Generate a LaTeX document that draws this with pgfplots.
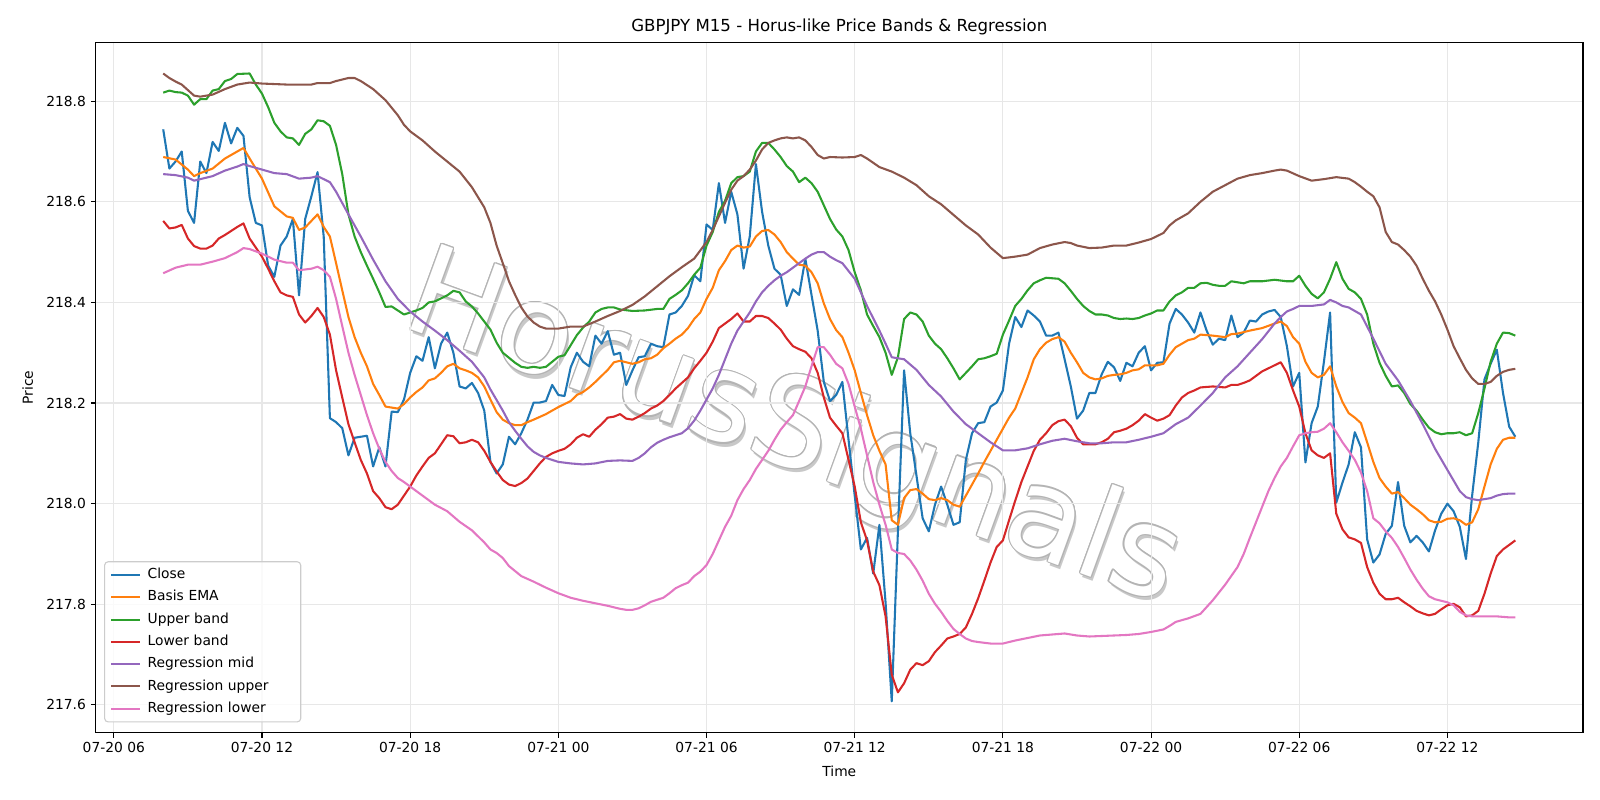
\documentclass[border=0pt]{standalone}
\usepackage{fontspec}
\setmainfont{DejaVu Sans}
\usepackage{pgfplots}
\usepackage{pgfplotstable}
\pgfplotsset{compat=1.18}

\definecolor{cClose}{HTML}{1F77B4}
\definecolor{cEma}{HTML}{FF7F0E}
\definecolor{cUp}{HTML}{2CA02C}
\definecolor{cLow}{HTML}{D62728}
\definecolor{cMid}{HTML}{9467BD}
\definecolor{cRUp}{HTML}{8C564B}
\definecolor{cRLow}{HTML}{E377C2}
\definecolor{gridgray}{HTML}{E7E7E7}
\definecolor{wmshadow}{HTML}{C8C8C8}
\definecolor{wmedge}{HTML}{B4B4B4}

% bar = number of 15-minute bars after 07-20 08:00
\pgfplotstableread{
bar price
0 218.744
1 218.666
2 218.680
3 218.700
4 218.582
5 218.558
6 218.680
7 218.657
8 218.719
9 218.701
10 218.757
11 218.716
12 218.747
13 218.731
14 218.609
15 218.558
16 218.553
17 218.473
18 218.451
19 218.513
20 218.531
21 218.566
22 218.414
23 218.566
24 218.611
25 218.659
26 218.530
27 218.170
28 218.162
29 218.150
30 218.096
31 218.131
32 218.133
33 218.135
34 218.074
35 218.112
36 218.074
37 218.183
38 218.182
39 218.207
40 218.260
41 218.293
42 218.284
43 218.331
44 218.269
45 218.318
46 218.340
47 218.300
48 218.233
49 218.229
50 218.240
51 218.220
52 218.185
53 218.083
54 218.060
55 218.078
56 218.133
57 218.118
58 218.140
59 218.167
60 218.201
61 218.201
62 218.204
63 218.236
64 218.216
65 218.214
66 218.271
67 218.300
68 218.282
69 218.273
70 218.334
71 218.318
72 218.343
73 218.296
74 218.300
75 218.236
76 218.265
77 218.291
78 218.293
79 218.318
80 218.313
81 218.311
82 218.376
83 218.380
84 218.393
85 218.413
86 218.454
87 218.442
88 218.555
89 218.544
90 218.637
91 218.558
92 218.620
93 218.575
94 218.467
95 218.531
96 218.675
97 218.580
98 218.513
99 218.467
100 218.455
101 218.393
102 218.426
103 218.415
104 218.487
105 218.415
106 218.344
107 218.242
108 218.204
109 218.216
110 218.242
111 218.127
112 218.016
113 217.909
114 217.932
115 217.861
116 217.958
117 217.803
118 217.607
119 217.945
120 218.265
121 218.140
122 218.056
123 217.971
124 217.945
125 217.998
126 218.034
127 217.998
128 217.958
129 217.963
130 218.087
131 218.140
132 218.160
133 218.162
134 218.193
135 218.201
136 218.225
137 218.318
138 218.371
139 218.351
140 218.384
141 218.374
142 218.362
143 218.334
144 218.334
145 218.340
146 218.287
147 218.233
148 218.169
149 218.185
150 218.220
151 218.220
152 218.257
153 218.282
154 218.271
155 218.244
156 218.280
157 218.273
158 218.300
159 218.313
160 218.265
161 218.280
162 218.281
163 218.358
164 218.387
165 218.376
166 218.360
167 218.340
168 218.380
169 218.344
170 218.316
171 218.328
172 218.325
173 218.374
174 218.331
175 218.340
176 218.364
177 218.362
178 218.376
179 218.382
180 218.385
181 218.371
182 218.313
183 218.233
184 218.260
185 218.082
186 218.160
187 218.193
188 218.282
189 218.380
190 218.002
191 218.042
192 218.078
193 218.142
194 218.112
195 217.929
196 217.883
197 217.899
198 217.940
199 217.956
200 218.043
201 217.956
202 217.923
203 217.936
204 217.923
205 217.905
206 217.947
207 217.980
208 218.000
209 217.985
210 217.954
211 217.890
212 218.016
213 218.122
214 218.247
215 218.278
216 218.306
217 218.220
218 218.153
219 218.133
}\closetab

\pgfplotstableread{
bar price
0 218.689
2 218.684
4 218.664
5 218.651
6 218.657
8 218.666
10 218.686
12 218.700
13 218.707
14 218.686
16 218.646
18 218.591
20 218.571
21 218.568
22 218.544
23 218.549
24 218.562
25 218.575
26 218.550
27 218.531
28 218.478
29 218.424
30 218.371
31 218.331
32 218.300
33 218.273
34 218.238
35 218.216
36 218.193
37 218.191
38 218.189
39 218.198
40 218.211
41 218.222
42 218.231
43 218.245
44 218.249
45 218.260
46 218.273
47 218.278
48 218.269
49 218.265
50 218.260
51 218.251
52 218.233
53 218.207
54 218.182
55 218.167
56 218.160
57 218.156
58 218.156
59 218.162
60 218.167
62 218.178
64 218.192
66 218.204
67 218.216
68 218.222
69 218.231
70 218.242
71 218.254
72 218.266
73 218.281
74 218.284
75 218.281
76 218.278
77 218.281
78 218.287
79 218.289
80 218.296
81 218.309
82 218.318
83 218.328
84 218.336
85 218.349
86 218.367
87 218.380
88 218.407
89 218.429
90 218.464
91 218.482
92 218.504
93 218.513
94 218.509
95 218.511
96 218.531
97 218.542
98 218.544
99 218.535
100 218.520
101 218.500
102 218.487
103 218.475
104 218.473
105 218.460
106 218.438
107 218.398
108 218.367
109 218.345
110 218.331
111 218.300
112 218.265
113 218.220
114 218.176
115 218.136
116 218.105
117 218.078
118 217.967
119 217.958
120 218.011
121 218.027
122 218.029
123 218.020
124 218.009
125 218.007
126 218.011
127 218.007
128 217.998
129 217.994
130 218.016
131 218.038
132 218.060
133 218.083
134 218.105
135 218.127
136 218.149
137 218.171
138 218.189
139 218.220
140 218.251
141 218.287
142 218.307
143 218.320
144 218.327
145 218.331
146 218.322
147 218.300
148 218.281
149 218.260
150 218.251
151 218.247
152 218.249
153 218.254
154 218.256
155 218.257
156 218.260
157 218.265
158 218.267
159 218.275
160 218.275
161 218.275
162 218.278
163 218.296
164 218.311
165 218.318
166 218.325
167 218.328
168 218.336
170 218.334
172 218.331
173 218.337
174 218.338
176 218.344
178 218.349
180 218.358
181 218.362
182 218.353
183 218.331
184 218.318
185 218.282
186 218.260
187 218.251
188 218.256
189 218.273
190 218.233
191 218.202
192 218.180
193 218.171
194 218.160
195 218.122
196 218.083
197 218.051
198 218.034
199 218.020
200 218.023
201 218.011
202 217.998
203 217.989
204 217.979
205 217.967
206 217.963
207 217.964
208 217.970
209 217.971
210 217.967
211 217.958
212 217.963
213 217.989
214 218.034
215 218.078
216 218.109
217 218.127
218 218.131
219 218.131
}\ematab

\pgfplotstableread{
bar price
0 218.817
1 218.821
2 218.818
3 218.817
4 218.811
5 218.793
6 218.804
7 218.804
8 218.821
9 218.824
10 218.840
11 218.844
12 218.854
14 218.855
15 218.833
16 218.815
17 218.788
18 218.757
19 218.740
20 218.728
21 218.726
22 218.713
23 218.735
24 218.744
25 218.762
26 218.760
27 218.751
28 218.713
29 218.655
30 218.575
31 218.531
32 218.500
33 218.473
34 218.447
35 218.420
36 218.391
37 218.392
38 218.384
39 218.376
40 218.380
41 218.384
42 218.389
43 218.400
44 218.402
45 218.408
46 218.414
47 218.423
48 218.420
49 218.402
50 218.392
51 218.378
52 218.362
53 218.346
54 218.320
55 218.300
56 218.290
57 218.280
58 218.272
59 218.270
60 218.272
61 218.270
62 218.272
63 218.282
64 218.292
65 218.295
66 218.315
67 218.335
68 218.350
69 218.362
70 218.380
71 218.387
72 218.390
73 218.390
74 218.386
76 218.383
78 218.384
80 218.387
81 218.387
82 218.407
83 218.415
84 218.424
85 218.438
86 218.455
87 218.469
88 218.513
89 218.540
90 218.580
91 218.602
92 218.637
93 218.649
94 218.651
95 218.660
96 218.700
97 218.717
98 218.717
99 218.704
100 218.689
101 218.671
102 218.660
103 218.639
104 218.648
105 218.637
106 218.620
107 218.593
108 218.566
109 218.545
110 218.531
111 218.504
112 218.460
113 218.424
114 218.376
115 218.353
116 218.331
117 218.300
118 218.256
119 218.291
120 218.367
121 218.380
122 218.376
123 218.362
124 218.334
125 218.318
126 218.307
127 218.289
128 218.269
129 218.247
130 218.260
131 218.273
132 218.287
133 218.289
134 218.293
135 218.298
136 218.336
137 218.364
138 218.393
139 218.407
140 218.424
141 218.438
142 218.444
143 218.449
144 218.448
145 218.447
146 218.438
147 218.423
148 218.407
149 218.393
150 218.383
151 218.376
152 218.376
153 218.374
154 218.369
155 218.367
156 218.368
157 218.367
158 218.369
159 218.374
160 218.378
161 218.384
162 218.384
163 218.402
164 218.414
165 218.420
166 218.429
167 218.429
168 218.438
169 218.439
170 218.435
171 218.433
172 218.433
173 218.442
174 218.440
175 218.438
176 218.442
178 218.442
180 218.445
182 218.442
183 218.442
184 218.453
185 218.433
186 218.417
187 218.408
188 218.420
189 218.447
190 218.480
191 218.447
192 218.427
193 218.420
194 218.407
195 218.376
196 218.318
197 218.280
198 218.254
199 218.233
200 218.235
201 218.220
202 218.198
203 218.185
204 218.167
205 218.151
206 218.142
207 218.138
208 218.140
209 218.140
210 218.142
211 218.136
212 218.140
213 218.180
214 218.229
215 218.282
216 218.318
217 218.340
218 218.339
219 218.334
}\uppertab

\pgfplotstableread{
bar price
0 218.562
1 218.547
2 218.549
3 218.554
4 218.527
5 218.512
6 218.507
7 218.507
8 218.513
9 218.527
10 218.534
11 218.542
12 218.550
13 218.557
14 218.527
15 218.509
16 218.491
17 218.467
18 218.442
19 218.420
20 218.414
21 218.411
22 218.376
23 218.360
24 218.373
25 218.389
26 218.371
27 218.336
28 218.265
29 218.211
30 218.158
31 218.122
32 218.087
33 218.060
34 218.025
35 218.011
36 217.993
37 217.989
38 217.998
39 218.016
40 218.034
41 218.056
42 218.074
43 218.091
44 218.100
45 218.118
46 218.136
47 218.134
48 218.120
49 218.122
50 218.127
51 218.122
52 218.105
53 218.083
54 218.064
55 218.047
56 218.038
57 218.035
58 218.041
59 218.050
60 218.065
61 218.080
62 218.093
63 218.100
64 218.105
65 218.109
66 218.118
67 218.131
68 218.138
69 218.133
70 218.147
71 218.158
72 218.171
73 218.173
74 218.178
75 218.169
76 218.167
77 218.173
78 218.180
79 218.189
80 218.195
81 218.204
82 218.216
83 218.229
84 218.240
85 218.251
86 218.269
87 218.284
88 218.300
89 218.322
90 218.349
91 218.358
92 218.367
93 218.378
94 218.362
95 218.362
96 218.373
97 218.373
98 218.369
99 218.358
100 218.346
101 218.328
102 218.313
103 218.307
104 218.302
105 218.289
106 218.260
107 218.211
108 218.171
109 218.155
110 218.140
111 218.087
112 218.034
113 217.963
114 217.927
115 217.865
116 217.838
117 217.776
118 217.660
119 217.625
120 217.643
121 217.670
122 217.683
123 217.679
124 217.687
125 217.705
126 217.718
127 217.732
128 217.736
129 217.741
130 217.754
131 217.781
132 217.812
133 217.847
134 217.883
135 217.914
136 217.927
137 217.967
138 218.006
139 218.043
140 218.074
141 218.105
142 218.127
143 218.140
144 218.156
145 218.164
146 218.167
147 218.154
148 218.131
149 218.118
150 218.118
151 218.118
152 218.122
153 218.129
154 218.142
155 218.145
156 218.149
157 218.156
158 218.165
159 218.178
160 218.171
161 218.165
162 218.169
163 218.176
164 218.195
165 218.211
166 218.220
167 218.225
168 218.231
170 218.233
172 218.231
173 218.236
174 218.236
175 218.240
176 218.245
177 218.254
178 218.263
179 218.269
180 218.275
181 218.281
182 218.260
183 218.225
184 218.193
185 218.140
186 218.106
187 218.096
188 218.091
189 218.100
190 217.980
191 217.949
192 217.933
193 217.929
194 217.922
195 217.874
196 217.843
197 217.821
198 217.810
199 217.810
200 217.813
201 217.804
202 217.796
203 217.787
204 217.782
205 217.778
206 217.781
207 217.790
208 217.798
209 217.801
210 217.794
211 217.776
212 217.778
213 217.787
214 217.821
215 217.861
216 217.896
217 217.909
218 217.918
219 217.927
}\lowertab

\pgfplotstableread{
bar price
0 218.655
2 218.653
4 218.648
5 218.642
6 218.645
8 218.651
10 218.662
12 218.670
13 218.675
14 218.671
16 218.664
18 218.657
20 218.655
22 218.646
24 218.648
25 218.651
26 218.645
27 218.639
28 218.620
30 218.575
32 218.531
34 218.485
36 218.442
38 218.407
40 218.382
42 218.362
44 218.344
46 218.325
48 218.304
50 218.282
52 218.251
53 218.227
54 218.206
55 218.185
56 218.162
57 218.145
58 218.129
59 218.114
60 218.103
61 218.096
62 218.091
64 218.083
66 218.080
68 218.078
70 218.080
72 218.085
74 218.086
76 218.085
77 218.091
78 218.100
79 218.112
80 218.121
81 218.127
82 218.132
84 218.140
85 218.150
86 218.165
87 218.185
88 218.207
89 218.229
90 218.256
91 218.287
92 218.318
93 218.344
94 218.362
95 218.380
96 218.402
97 218.420
98 218.433
99 218.444
100 218.453
101 218.460
102 218.469
103 218.478
104 218.487
105 218.495
106 218.500
107 218.500
108 218.491
109 218.484
110 218.478
112 218.447
114 218.393
116 218.344
117 218.318
118 218.291
119 218.289
120 218.287
122 218.266
124 218.236
126 218.213
128 218.183
130 218.158
132 218.140
134 218.122
136 218.106
138 218.106
140 218.110
142 218.118
144 218.125
146 218.129
148 218.124
150 218.120
152 218.120
154 218.122
156 218.122
158 218.127
160 218.133
162 218.140
163 218.149
164 218.158
166 218.171
168 218.195
170 218.220
172 218.251
174 218.273
176 218.300
178 218.327
180 218.358
181 218.371
182 218.382
183 218.387
184 218.393
186 218.393
188 218.396
189 218.405
190 218.400
191 218.393
192 218.390
194 218.376
196 218.328
198 218.278
200 218.245
202 218.204
204 218.158
206 218.109
208 218.067
210 218.025
211 218.013
212 218.009
213 218.007
214 218.009
215 218.011
216 218.016
217 218.019
218 218.020
219 218.020
}\midtab

\pgfplotstableread{
bar price
0 218.855
1 218.846
2 218.839
3 218.833
4 218.822
5 218.811
6 218.809
7 218.811
8 218.813
10 218.824
12 218.833
14 218.837
16 218.835
18 218.834
20 218.833
22 218.833
24 218.833
25 218.836
26 218.836
27 218.836
28 218.840
30 218.846
31 218.846
32 218.840
34 218.824
36 218.802
38 218.772
39 218.753
40 218.740
42 218.722
44 218.700
46 218.680
48 218.660
50 218.629
52 218.589
53 218.558
54 218.513
55 218.478
56 218.442
57 218.415
58 218.390
59 218.372
60 218.360
61 218.352
62 218.348
64 218.348
66 218.352
68 218.352
70 218.362
72 218.373
74 218.383
76 218.395
78 218.412
80 218.432
82 218.452
84 218.470
86 218.487
88 218.520
89 218.544
90 218.571
91 218.598
92 218.624
93 218.642
94 218.651
95 218.664
96 218.682
97 218.704
98 218.717
99 218.722
100 218.726
101 218.728
102 218.726
103 218.728
104 218.722
105 218.709
106 218.693
107 218.686
108 218.689
110 218.688
112 218.689
113 218.693
114 218.686
116 218.669
118 218.660
120 218.648
122 218.633
124 218.611
126 218.595
128 218.574
130 218.553
132 218.535
134 218.509
136 218.488
138 218.491
140 218.495
142 218.508
144 218.515
146 218.520
147 218.518
148 218.513
150 218.508
152 218.509
154 218.513
156 218.513
158 218.519
160 218.526
162 218.538
163 218.553
164 218.563
166 218.577
168 218.600
170 218.620
172 218.633
174 218.646
176 218.653
178 218.657
180 218.662
181 218.664
182 218.662
184 218.651
186 218.642
188 218.645
190 218.649
192 218.646
193 218.639
194 218.630
195 218.620
196 218.611
197 218.589
198 218.540
199 218.520
200 218.515
201 218.504
202 218.491
203 218.473
204 218.447
205 218.423
206 218.402
207 218.376
208 218.346
209 218.313
210 218.289
211 218.266
212 218.249
213 218.238
214 218.238
215 218.242
216 218.254
217 218.262
218 218.266
219 218.268
}\rutab

\pgfplotstableread{
bar price
0 218.458
2 218.469
4 218.475
6 218.475
8 218.481
10 218.488
12 218.500
13 218.508
14 218.506
16 218.497
18 218.485
20 218.479
21 218.479
22 218.464
24 218.467
25 218.471
26 218.464
27 218.451
28 218.407
29 218.353
30 218.300
31 218.256
32 218.216
33 218.176
34 218.140
35 218.109
36 218.083
37 218.065
38 218.051
39 218.043
40 218.034
42 218.016
44 217.998
46 217.985
48 217.964
50 217.947
52 217.923
53 217.909
54 217.902
55 217.892
56 217.876
58 217.856
60 217.845
62 217.833
64 217.822
66 217.813
68 217.807
70 217.802
72 217.797
74 217.791
75 217.789
76 217.789
77 217.792
78 217.798
79 217.805
80 217.809
81 217.813
82 217.822
83 217.832
84 217.838
85 217.843
86 217.856
87 217.865
88 217.878
89 217.900
90 217.927
91 217.954
92 217.976
93 218.007
94 218.029
95 218.047
96 218.069
97 218.087
98 218.105
99 218.127
100 218.147
101 218.162
102 218.176
103 218.204
104 218.233
105 218.273
106 218.311
107 218.311
108 218.296
109 218.278
110 218.269
111 218.238
112 218.193
113 218.149
114 218.096
115 218.043
116 217.998
117 217.958
118 217.909
119 217.902
120 217.900
121 217.887
122 217.869
123 217.847
124 217.821
125 217.801
126 217.785
127 217.767
128 217.751
129 217.741
130 217.732
131 217.727
132 217.725
134 217.722
136 217.722
138 217.728
140 217.733
142 217.738
144 217.740
146 217.742
148 217.738
150 217.736
152 217.737
154 217.738
156 217.739
158 217.741
160 217.745
162 217.750
163 217.757
164 217.765
166 217.772
168 217.781
170 217.808
172 217.839
174 217.874
175 217.900
176 217.932
177 217.963
178 217.994
179 218.025
180 218.051
181 218.074
182 218.091
183 218.114
184 218.136
185 218.140
186 218.142
187 218.143
188 218.149
189 218.160
190 218.142
191 218.122
192 218.105
193 218.087
194 218.062
195 218.025
196 217.971
197 217.961
198 217.945
199 217.932
200 217.914
201 217.892
202 217.869
203 217.849
204 217.831
205 217.816
206 217.810
207 217.807
208 217.804
209 217.798
210 217.785
211 217.778
212 217.776
214 217.776
216 217.776
218 217.774
219 217.774
}\rltab

\newcommand{\wmfont}{\fontsize{90}{100}\selectfont}
\newcommand{\wmtext}{HorusSignals}

\begin{document}
\begin{tikzpicture}
\path[use as bounding box] (0,0) rectangle (16in,8in);

% watermark: drop shadow, grey contour ring, white core
\begin{scope}[shift={(7.93in,3.68in)}, rotate=-20, transform shape]
  \node[text=wmshadow, font=\wmfont] at (2.6pt,-2.6pt) {\wmtext};
  \foreach \a in {0,30,...,330}
    \node[text=wmedge, font=\wmfont] at (\a:0.85pt) {\wmtext};
  \node[text=white, font=\wmfont] at (0,0) {\wmtext};
\end{scope}

\begin{axis}[
  at={(0.956in,0.672in)}, anchor=south west,
  scale only axis, width=14.874in, height=6.907in,
  xmin=5.2625, xmax=65.4875, ymin=217.5446, ymax=218.9174,
  xtick={6,12,18,24,30,36,42,48,54,60},
  xticklabels={07-20 06,07-20 12,07-20 18,07-21 00,07-21 06,07-21 12,07-21 18,07-22 00,07-22 06,07-22 12},
  ytick={217.6,217.8,218.0,218.2,218.4,218.6,218.8},
  yticklabels={217.6,217.8,218.0,218.2,218.4,218.6,218.8},
  tick pos=left, tick align=outside, major tick length=3.5pt,
  tick style={black, line width=0.8pt},
  axis line style={black, line width=0.8pt},
  tick label style={font=\fontsize{10}{12}\selectfont},
  /pgf/number format/assume math mode=true,
  grid=major, major grid style={draw=gridgray, line width=0.8pt},
  every axis plot/.append style={line width=1.5pt, line join=round},
  legend cell align=left,
  legend image code/.code={\draw[#1, line width=1.5pt] (0pt,0pt) -- (20.5pt,0pt);},
  legend style={
    at={(0.0057,0.015)}, anchor=south west,
    draw=black!20, line width=0.8pt, rounded corners=2.5pt,
    fill=white, fill opacity=0.8, draw opacity=1, text opacity=1,
    font=\fontsize{10}{12}\selectfont,
    inner xsep=4pt, inner ysep=3pt, row sep=3pt,
    nodes={inner sep=1.6pt, text height=7.6pt, text depth=2.3pt},
    /tikz/every odd column/.style={column sep=3.5pt},
    /tikz/column 2/.style={text width=105pt},
  },
]
\addplot[cClose] table[x expr=\thisrow{bar}/4+8, y=price] {\closetab};
\addlegendentry{Close}
\addplot[cEma] table[x expr=\thisrow{bar}/4+8, y=price] {\ematab};
\addlegendentry{Basis EMA}
\addplot[cUp] table[x expr=\thisrow{bar}/4+8, y=price] {\uppertab};
\addlegendentry{Upper band}
\addplot[cLow] table[x expr=\thisrow{bar}/4+8, y=price] {\lowertab};
\addlegendentry{Lower band}
\addplot[cMid] table[x expr=\thisrow{bar}/4+8, y=price] {\midtab};
\addlegendentry{Regression mid}
\addplot[cRUp] table[x expr=\thisrow{bar}/4+8, y=price] {\rutab};
\addlegendentry{Regression upper}
\addplot[cRLow] table[x expr=\thisrow{bar}/4+8, y=price] {\rltab};
\addlegendentry{Regression lower}
\end{axis}

\node[anchor=base, font=\fontsize{12}{14}\selectfont] at (8.393in,7.684in)
  {GBPJPY M15 - Horus-like Price Bands \& Regression};
\node[anchor=base, font=\fontsize{10}{12}\selectfont] at (8.393in,0.235in) {Time};
\node[rotate=90, font=\fontsize{10}{12}\selectfont] at (0.276in,4.125in) {Price};
\end{tikzpicture}
\end{document}
